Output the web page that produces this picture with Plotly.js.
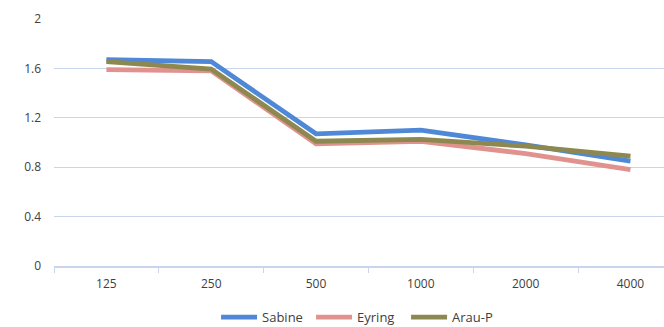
<!DOCTYPE html>
<html>
<head>
<meta charset="utf-8">
<script src="https://cdn.plot.ly/plotly-3.0.1.min.js"></script>
<style>html,body{margin:0;padding:0;background:#fff;}#chart{width:664px;height:327px;}</style>
</head>
<body>
<div id="chart"></div>
<script>
const categories = ["125", "250", "500", "1000", "2000", "4000"];
const sabine = [1.67, 1.655, 1.07, 1.10, 0.98, 0.85];
const eyring = [1.59, 1.58, 0.99, 1.01, 0.91, 0.78];
const arauP = [1.655, 1.595, 1.01, 1.025, 0.97, 0.89];
const yTicks = [0, 0.4, 0.8, 1.2, 1.6, 2];
const yTickLabels = ["0", "0.4", "0.8", "1.2", "1.6", "2"];

const mk = (name, y, color) => ({
  type: "scatter", mode: "lines", name: name, x: categories, y: y,
  line: {color: color, width: 4.8}
});
const traces = [
  mk("Sabine", sabine, "#4F88D6"),
  mk("Eyring", eyring, "#E0938E"),
  mk("Arau-P", arauP, "#8D8850")
];
const layout = {
  width: 664, height: 327,
  margin: {l: 54, r: 0, t: 19, b: 61, autoexpand: false},
  paper_bgcolor: "#fff", plot_bgcolor: "#fff",
  font: {family: "Open Sans, Liberation Sans, sans-serif", size: 12, color: "#404040"},
  showlegend: true,
  legend: {orientation: "h", x: 0.54, xanchor: "center", xref: "container",
           y: 0.03, yanchor: "middle", yref: "container",
           font: {size: 13, color: "#404040"}, itemwidth: 36, tracegroupgap: 0,
           entrywidth: 44, entrywidthmode: "pixels"},
  xaxis: {type: "category", range: [-0.5, 5.32], showgrid: false, zeroline: false,
          showline: true, linecolor: "#C9D5EC", linewidth: 1.5,
          ticks: "outside", tickson: "boundaries", ticklen: 5, tickcolor: "#C9D5EC",
          tickfont: {size: 12, color: "#404040"}, ticklabelstandoff: 6, fixedrange: true},
  yaxis: {range: [0, 2], tickvals: yTicks, ticktext: yTickLabels, showgrid: true,
          gridcolor: "#C9D5EC", gridwidth: 1.2, zeroline: false, showline: false,
          ticks: "", tickfont: {size: 12, color: "#404040"}, ticklabelstandoff: 12, fixedrange: true}
};
Plotly.newPlot("chart", traces, layout, {displayModeBar: false, staticPlot: true});
</script>
</body>
</html>
